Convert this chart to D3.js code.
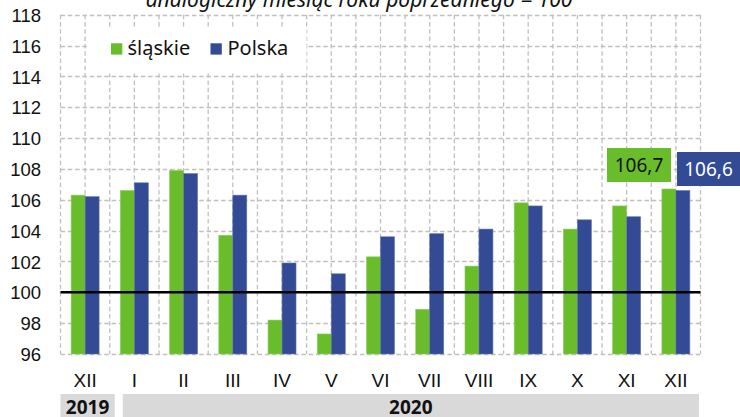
<!DOCTYPE html>
<html><head><meta charset="utf-8">
<script src="https://cdn.jsdelivr.net/npm/d3@7"></script>
<style>
html,body{margin:0;padding:0;background:#fff;}
svg{display:block;font-family:"Noto Sans","Open Sans",sans-serif;}
</style></head>
<body><svg id="c" width="740" height="417"></svg>
<script>
const categories = ["XII","I","II","III","IV","V","VI","VII","VIII","IX","X","XI","XII"];
const seriesNames = ["śląskie","Polska"];
const slaskie = [106.3,106.6,107.9,103.7,98.2,97.3,102.3,98.9,101.7,105.8,104.1,105.6,106.7];
const polska  = [106.2,107.1,107.7,106.3,101.9,101.2,103.6,103.8,104.1,105.6,104.7,104.9,106.6];
const yTicks = [96,98,100,102,104,106,108,110,112,114,116,118];
const years = [{label:"2019", from:0, to:0},{label:"2020", from:1, to:12}];
const lastLabels = ["106,7","106,6"];
const title = "analogiczny miesiąc roku poprzedniego = 100";

const colors = ["#6abd2a","#334a94"];
const svg = d3.select("#c");
const L = 60.5, R = 700.5, T = 14.7, B = 354;

const y = d3.scaleLinear().domain([96,118]).range([B,T]);
const x0 = d3.scaleBand().domain(d3.range(categories.length)).range([L,R]).padding(0);
const x1 = d3.scaleBand().domain([0,1]).range([0,x0.bandwidth()]).paddingInner(0).paddingOuter(0.76);

// title
svg.append("text").attr("x",359).attr("y",7).attr("text-anchor","middle")
  .style("font-style","italic").style("font-size","21px").attr("fill","#111").text(title);

// grid
const grid = svg.append("g").attr("stroke","#c0c0c0").attr("stroke-width",1.3).attr("stroke-dasharray","4.5,2.8");
yTicks.forEach(v=>{
  grid.append("line").attr("x1",L).attr("x2",R).attr("y1",Math.round(y(v))+0.5).attr("y2",Math.round(y(v))+0.5);
});
const halfStep = x0.bandwidth()/2;
for(let k=0;k<=categories.length*2;k++){
  const xx = L + k*halfStep;
  grid.append("line").attr("x1",xx).attr("x2",xx).attr("y1",T).attr("y2",B);
}

// legend box
svg.append("rect").attr("x",87).attr("y",28.5).attr("width",219.5).attr("height",45).attr("fill","#fff");
const leg = [{x:111, tx:127.5},{x:210.5, tx:227.5}];
seriesNames.forEach((n,i)=>{
  svg.append("rect").attr("x",leg[i].x).attr("y",43.3).attr("width",11.3).attr("height",11.3).attr("fill",colors[i]);
  svg.append("text").attr("x",leg[i].tx).attr("y",54.5).style("font-size","20px").attr("fill","#111").text(n);
});

// bars
const data = categories.map((c,i)=>({i, vals:[slaskie[i],polska[i]]}));
const bars = svg.append("g");
data.forEach(d=>{
  d.vals.forEach((v,s)=>{
    bars.append("rect")
      .attr("x", x0(d.i)+x1(s)).attr("width", x1.bandwidth())
      .attr("y", y(v)).attr("height", B - y(v))
      .attr("fill", colors[s]).attr("stroke", s===0?"#8fcc60":"#6677ad").attr("stroke-width",0.6);
  });
});

// baseline 100
svg.append("line").attr("x1",L).attr("x2",R).attr("y1",y(100)).attr("y2",y(100)).attr("stroke","#000").attr("stroke-width",2.6);

// y axis labels
const yAxis = d3.axisLeft(y).tickValues(yTicks).tickSize(0).tickPadding(0).tickFormat(d3.format("d"));
const ga = svg.append("g").attr("transform","translate(41,0)").call(yAxis);
ga.select(".domain").remove();
ga.selectAll("text").style("font-size","18.5px").attr("fill","#111").attr("font-family",null).attr("dy","0.36em");

// x axis labels
const xAxis = d3.axisBottom(x0).tickSize(0).tickPadding(0).tickFormat(i=>categories[i]);
const gx = svg.append("g").attr("transform","translate(0,387)").call(xAxis);
gx.select(".domain").remove();
gx.selectAll("text").style("font-size","19px").attr("fill","#111").attr("font-family",null).attr("dy","0");

// year row
years.forEach((yr,k)=>{
  const xa = k===0 ? L : x0(yr.from)+13;
  const xb = k===0 ? x0(yr.to)+x0.bandwidth()+5 : R-1.5;
  svg.append("rect").attr("x",xa).attr("y",394).attr("width",xb-xa).attr("height",23).attr("fill","#d9d9d9");
  svg.append("text").attr("x",(xa+xb)/2).attr("y",414).attr("text-anchor","middle")
    .style("font-size","19px").style("font-weight","bold").attr("fill","#111").text(yr.label);
});

// value labels for last category
const boxes = [{x:607, y:148, w:64, h:34, fill:colors[0], tc:"#111"},{x:677, y:152, w:63, h:34, fill:colors[1], tc:"#fff"}];
boxes.forEach((b,s)=>{
  svg.append("rect").attr("x",b.x).attr("y",b.y).attr("width",b.w).attr("height",b.h).attr("fill",b.fill);
  svg.append("text").attr("x",b.x+b.w/2).attr("y",b.y+b.h/2).attr("dy","0.36em").attr("text-anchor","middle")
    .style("font-size","19px").attr("fill",b.tc).text(lastLabels[s]);
});
</script></body></html>
